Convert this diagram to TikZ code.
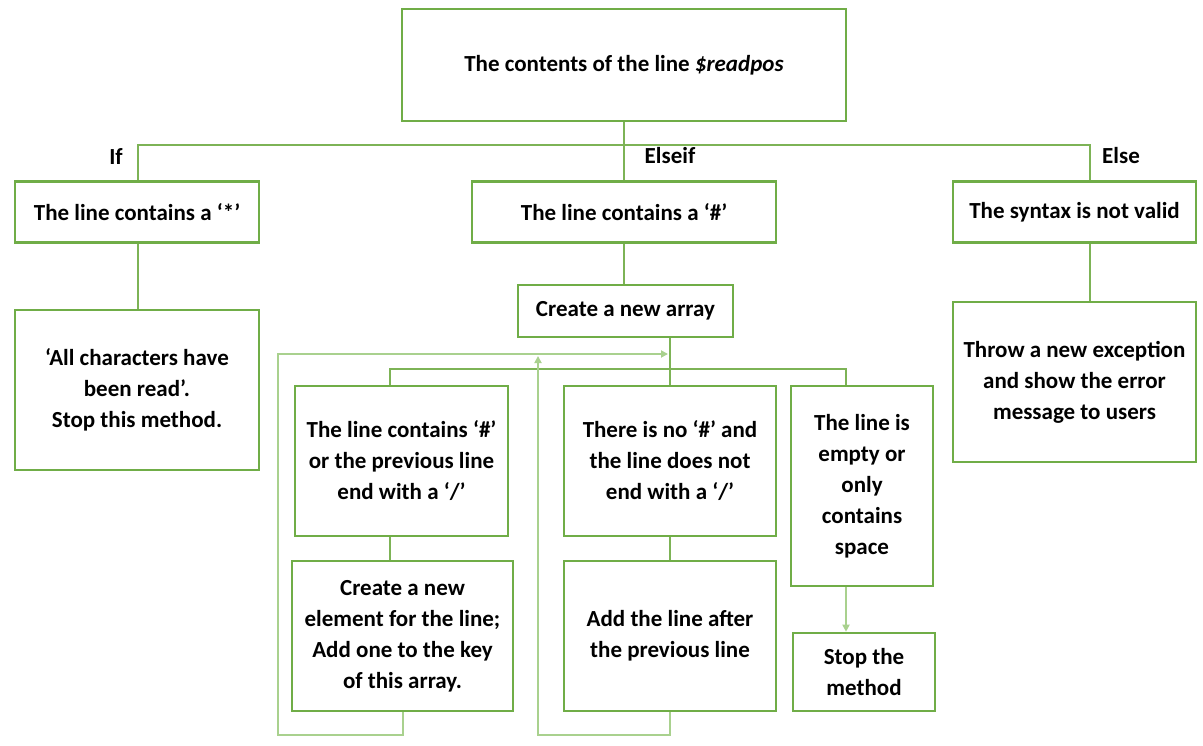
\documentclass[tikz,border=0pt]{standalone}
\usepackage{fontspec}
\setmainfont{Carlito}
\usetikzlibrary{arrows.meta}
\definecolor{boxgreen}{HTML}{70AD47}
\definecolor{linegreen}{HTML}{7DB356}
\definecolor{loopgreen}{HTML}{A9D18E}
\tikzset{
  box/.style={draw=boxgreen, line width=2.6pt, fill=white, align=center,
    font=\fontsize{23}{31}\selectfont\bfseries, inner sep=0pt},
  conn/.style={draw=linegreen, line width=1.4pt},
  loopline/.style={draw=loopgreen, line width=1.8pt},
  lbl/.style={font=\fontsize{23}{26}\selectfont\bfseries, inner sep=0pt},
  tip/.style={-{Triangle[width=7pt,length=7pt]}}
}
\begin{document}
\begin{tikzpicture}[x=1pt,y=-1pt]
\useasboundingbox (0,0) rectangle (1203,746);
\coordinate (hl) at (138,145);
\coordinate (hr) at (1090,145);
\coordinate (cr) at (1090,180);
% boxes
\node[box, minimum width=444pt, minimum height=112pt] (top) at (624,65) {The contents of the line \textit{\$readpos}};
\node[box, minimum width=244pt, minimum height=61pt] (A) at (137,212) {The line contains a ‘*’};
\node[box, minimum width=304pt, minimum height=61pt] (B) at (624,212) {The line contains a ‘\#’};
\node[box, minimum width=243pt, minimum height=61pt] (C) at (1074.5,212) {The syntax is not valid};
\node[box, minimum width=244pt, minimum height=160pt] (D) at (137,390) {‘All characters have\\been read’.\\Stop this method.};
\node[box, minimum width=243pt, minimum height=160pt] (E) at (1074.5,382) {Throw a new exception\\and show the error\\message to users};
\node[box, minimum width=215pt, minimum height=52pt] (arr) at (625.5,311) {Create a new array};
\node[box, minimum width=213pt, minimum height=150pt] (F) at (401.5,461) {The line contains ‘\#’\\or the previous line\\end with a ‘/’};
\node[box, minimum width=221pt, minimum height=150pt] (F2) at (402.5,636) {Create a new\\element for the line;\\Add one to the key\\of this array.};
\node[box, minimum width=212pt, minimum height=150pt] (G) at (670,461) {There is no ‘\#’ and\\the line does not\\end with a ‘/’};
\node[box, minimum width=212pt, minimum height=150pt] (G2) at (670,636) {Add the line after\\the previous line};
\node[box, minimum width=142pt, minimum height=200pt] (H) at (862,486) {The line is\\empty or\\only\\contains\\space};
\node[box, minimum width=142pt, minimum height=78pt] (H2) at (864,672) {Stop the\\method};
% labels
\node[lbl] (if) at (116,157) {If};
\node[lbl] (elseif) at (670,156) {Elseif};
\node[lbl] (else) at (1121,156) {Else};
% top tree
\draw[conn] (top.south) -- (B.north);
\draw[conn] (A.north -| hl) -- (hl) -- (hr) -- (cr);
\draw[conn] (A.south -| hl) -- (D.north -| hl);
\draw[conn] (C.south -| hr) -- (E.north -| hr);
\draw[conn] (B.south) -- (arr.north -| B.south);
% middle tree
\coordinate (fx) at (390,369);
\coordinate (hx) at (846,369);
\draw[conn] (G.north |- arr.south) -- (G.north);
\draw[conn] (F.north -| fx) -- (fx) -- (hx) -- (H.north -| hx);
\draw[conn] (F.south -| fx) -- (F2.north -| fx);
\draw[conn] (G.south) -- (G2.north);
\draw[loopline, tip] (H.south -| hx) -- (H2.north -| hx);
% loops
\coordinate (l1a) at (403,735);
\coordinate (l1b) at (278,735);
\coordinate (l1c) at (278,354);
\coordinate (l1d) at (668,354);
\draw[loopline, tip] (F2.south -| l1a) -- (l1a) -- (l1b) -- (l1c) -- (l1d);
\coordinate (l2a) at (670,735);
\coordinate (l2b) at (538,735);
\coordinate (l2c) at (538,356);
\draw[loopline, tip] (G2.south) -- (l2a) -- (l2b) -- (l2c);
\end{tikzpicture}
\end{document}
